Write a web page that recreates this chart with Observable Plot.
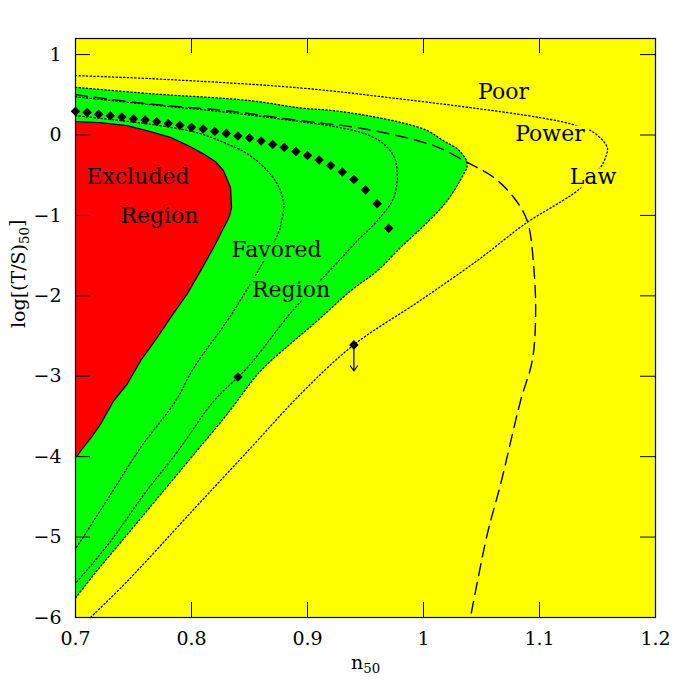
<!DOCTYPE html>
<html><head><meta charset="utf-8">
<script src="https://cdn.jsdelivr.net/npm/d3@7"></script>
<script src="https://cdn.jsdelivr.net/npm/@observablehq/plot@0.6"></script>
<style>body{margin:0;background:#fff}</style>
</head><body><div id="chart"></div>
<script>
// ---- data ----
const xTicks = [0.7, 0.8, 0.9, 1.0, 1.1, 1.2];
const yTicks = [-6, -5, -4, -3, -2, -1, 0, 1];

// Excluded region boundary (red), closed along the left axis
const excludedBoundary = [
  [0.7,0.166],[0.7216,0.153],[0.7446,0.116],[0.7647,0.041],[0.7819,-0.030],[0.7991,-0.146],
  [0.8106,-0.237],[0.8207,-0.332],[0.8276,-0.445],[0.8336,-0.653],[0.8345,-0.902],[0.8328,-1.005],
  [0.8308,-1.067],[0.819,-1.400],[0.8078,-1.690],[0.7963,-1.976],[0.7819,-2.271],[0.7704,-2.520],
  [0.7560,-2.810],[0.7446,-3.096],[0.7328,-3.308],[0.7216,-3.595],[0.7144,-3.744],[0.7043,-3.931],
  [0.7015,-3.994],[0.7,-4.0]
];
// Favored region boundary (green)
const favoredBoundary = [
  [0.7,0.593],[0.7647,0.514],[0.8509,0.427],[0.894,0.336],[0.9224,0.303],[0.9517,0.240],
  [0.9802,0.157],[1.0034,0.054],[1.0172,-0.071],[1.0293,-0.174],[1.0345,-0.258],[1.0371,-0.320],
  [1.0375,-0.396],[1.0347,-0.486],[1.0204,-0.818],[1.0032,-1.088],[0.9802,-1.400],[0.9601,-1.690],
  [0.9371,-1.939],[0.9084,-2.312],[0.8882,-2.561],[0.8595,-2.935],[0.8308,-3.471],[0.8020,-3.973],
  [0.7733,-4.471],[0.7446,-4.969],[0.7158,-5.467],[0.7,-5.76]
];
// dotted contours inside the favored region
const contourInner = [
  [0.7,0.240],[0.7733,0.116],[0.8078,0.016],[0.8308,-0.112],[0.8466,-0.220],[0.8595,-0.361],
  [0.8698,-0.519],[0.8767,-0.694],[0.8796,-0.880],[0.8776,-1.067],[0.8753,-1.204],[0.8364,-2.188],
  [0.8020,-2.894],[0.7862,-3.309],[0.7560,-3.890],[0.7302,-4.471],[0.7043,-5.053],[0.7,-5.14]
];
const contourOuter = [
  [0.7,0.476],[0.7647,0.377],[0.8293,0.284],[0.894,0.166],[0.9284,0.091],[0.9515,0.004],
  [0.9655,-0.108],[0.9741,-0.258],[0.9773,-0.445],[0.9744,-0.777],[0.9601,-1.067],[0.9429,-1.316],
  [0.9256,-1.587],[0.8882,-2.167],[0.8480,-2.894],[0.8192,-3.309],[0.7877,-3.941],[0.7589,-4.471],
  [0.7302,-5.053],[0.7015,-5.551],[0.7,-5.575]
];
// "Poor Power Law" dotted curve
const poorPowerLaw = [
  [0.7,0.738],[0.7647,0.701],[0.894,0.585],[0.9802,0.448],[1.0405,0.340],[1.1009,0.215],
  [1.1293,0.128],[1.1466,0.032],[1.1584,-0.154],[1.1569,-0.279],[1.1526,-0.403],[1.1325,-0.694],
  [1.1198,-0.818],[1.0888,-1.092],[1.0483,-1.541],[0.9966,-2.064],[0.9397,-2.612],[0.894,-3.222],
  [0.8509,-3.894],[0.802,-4.654],[0.7446,-5.550],[0.7129,-6.0]
];
// dashed curve
const dashedCurve = [
  [0.7,0.502],[0.7647,0.384],[0.8293,0.303],[0.894,0.178],[0.9483,0.078],[1.0089,-0.133],
  [1.0377,-0.341],[1.0606,-0.528],[1.0778,-0.777],[1.0894,-1.067],[1.0951,-1.649],[1.0966,-2.271],
  [1.0937,-2.811],[1.0836,-3.309],[1.0664,-4.346],[1.0549,-4.969],[1.0405,-6.0]
];
// diamond points
const diamondX = [0.70,0.71,0.72,0.73,0.74,0.75,0.76,0.77,0.78,0.79,0.80,0.81,0.82,0.83,
  0.84,0.85,0.86,0.87,0.88,0.89,0.90,0.91,0.92,0.93,0.94,0.95,0.96,0.97,0.84,0.94];
const diamondY = [0.294,0.281,0.257,0.240,0.224,0.203,0.187,0.166,0.144,0.120,0.095,0.075,0.045,0.020,
  -0.012,-0.037,-0.075,-0.117,-0.154,-0.204,-0.254,-0.311,-0.379,-0.461,-0.553,-0.685,-0.856,-1.161,-3.01,-2.61];
// upper limit arrow
const limitArrow = [{x:0.94, y1:-2.61, y2:-2.935}];
// region labels
const labelText = ["Excluded","Region","Favored","Region","Poor","Power","Law"];
const labelX = [0.7539,0.7724,0.8733,0.8858,1.069,1.109,1.1461];
const labelY = [-0.519,-1.005,-1.428,-1.927,0.539,0.016,-0.516];
const labelHalo = ["#ff0000","#ff0000","#00ff00","#00ff00","#ffff00","#ffff00","#ffff00"];
const xLabel = "n50";
const yLabel = "log[(T/S)50]";

// ---- build ----
const FONT = "DejaVu Serif";
const W = 692, H = 692, ML = 75, MR = 37, MT = 38, MB = 75;
const FW = W - ML - MR, FH = H - MT - MB, TICK = 15;
const diamonds = diamondX.map((x, i) => ({x, y: diamondY[i]}));
const labels = labelText.map((t, i) => ({t, x: labelX[i], y: labelY[i], halo: labelHalo[i]}));
const minus = d => d < 0 ? "\u2212" + Math.abs(d) : String(d);
const DOT = {stroke: "black", strokeWidth: 1.3, strokeDasharray: "1.3,2.4", curve: "catmull-rom"};

const svg = Plot.plot({
  width: W, height: H,
  marginLeft: ML, marginRight: MR, marginTop: MT, marginBottom: MB,
  x: {domain: [0.7, 1.2], axis: null},
  y: {domain: [-6, 1.2], axis: null},
  style: {fontFamily: FONT, background: "white", overflow: "visible"},
  marks: [
    Plot.frame({fill: "#ffff00"}),
    Plot.line(favoredBoundary, {x: d => d[0], y: d => d[1], fill: "#00ff00", stroke: "none", curve: "catmull-rom"}),
    Plot.line(excludedBoundary, {x: d => d[0], y: d => d[1], fill: "#ff0000", stroke: "none"}),
    Plot.line(favoredBoundary, {x: d => d[0], y: d => d[1], ...DOT}),
    Plot.line(excludedBoundary, {x: d => d[0], y: d => d[1], stroke: "black", strokeWidth: 1.3}),
    Plot.line(contourInner, {x: d => d[0], y: d => d[1], ...DOT}),
    Plot.line(contourOuter, {x: d => d[0], y: d => d[1], ...DOT}),
    Plot.line(poorPowerLaw, {x: d => d[0], y: d => d[1], ...DOT}),
    Plot.line(dashedCurve, {x: d => d[0], y: d => d[1], stroke: "black", strokeWidth: 1.4, strokeDasharray: "12,7", curve: "catmull-rom"}),
    Plot.text(labels, {x: "x", y: "y", text: "t", fontSize: 22, fontFamily: FONT, fill: "black", stroke: "halo", strokeWidth: 7}),
    Plot.arrow(limitArrow, {x1: "x", x2: "x", y1: "y1", y2: "y2", stroke: "black", strokeWidth: 1.2, headLength: 8, headAngle: 70}),
    Plot.dot(diamonds, {x: "x", y: "y", symbol: "diamond2", r: 4.3, fill: "black", stroke: "none"}),
    // inward ticks on all four sides
    Plot.ruleX(xTicks, {x: d => d, insetTop: FH - TICK, stroke: "black"}),
    Plot.ruleX(xTicks, {x: d => d, insetBottom: FH - TICK, stroke: "black"}),
    Plot.ruleY(yTicks, {y: d => d, insetRight: FW - TICK, stroke: "black"}),
    Plot.ruleY(yTicks, {y: d => d, insetLeft: FW - TICK, stroke: "black"}),
    Plot.frame({stroke: "black", strokeWidth: 1.2}),
    Plot.axisX(xTicks, {anchor: "bottom", label: null, tickSize: 0, tickPadding: 14, fontSize: 19, fontFamily: FONT, tickFormat: d => String(+d.toFixed(1)), fill: "black"}),
    Plot.axisY(yTicks, {anchor: "left", label: null, tickSize: 0, tickPadding: 14, fontSize: 19, fontFamily: FONT, tickFormat: minus, fill: "black"}),
    Plot.text([xLabel], {text: d => d, frameAnchor: "bottom", dy: 45, fontSize: 19, fontFamily: FONT, lineAnchor: "middle", fill: "black"}),
    Plot.text([yLabel], {text: d => d, frameAnchor: "left", dx: -57, rotate: -90, fontSize: 19, fontFamily: FONT, lineAnchor: "middle", fill: "black"})
  ]
});

// subscripts "50"
d3.select(svg).selectAll("text").each(function() {
  const t = this.textContent;
  if (t === xLabel || t === yLabel) {
    const sel = d3.select(this);
    const i = t.indexOf("50");
    const pre = t.slice(0, i), post = t.slice(i + 2);
    sel.text(null);
    sel.append("tspan").text(pre);
    sel.append("tspan").attr("dy", "0.32em").attr("font-size", "70%").text("50");
    if (post) sel.append("tspan").attr("dy", "-0.32em").text(post);
  }
});

document.getElementById("chart").appendChild(svg);
</script></body></html>
